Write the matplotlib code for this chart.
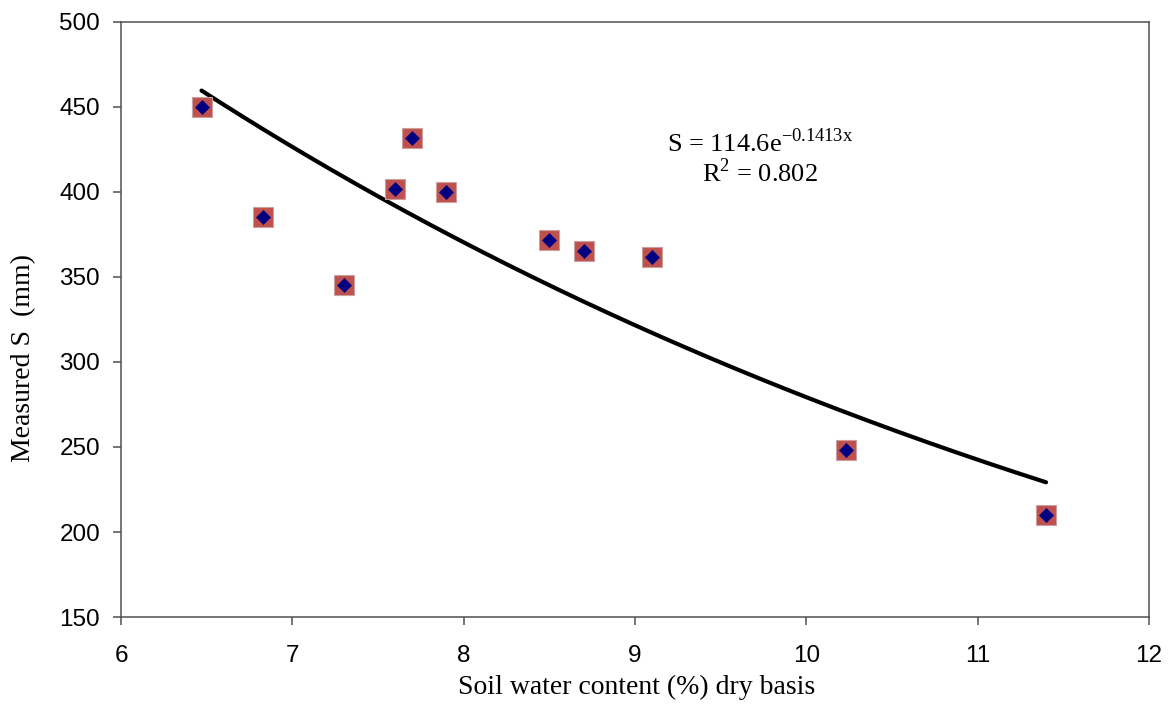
import matplotlib
matplotlib.use('Agg')
import matplotlib.pyplot as plt
import numpy as np

# soil water content (%) and measured S (mm)
water_content = np.array([6.47, 6.83, 7.30, 7.60, 7.70, 7.90, 8.50, 8.70, 9.10, 10.23, 11.40])
measured_s = np.array([450, 385, 345, 402, 432, 400, 372, 365, 362, 248, 210])

x_ticks = [6, 7, 8, 9, 10, 11, 12]
y_ticks = [150, 200, 250, 300, 350, 400, 450, 500]

plt.rcParams['mathtext.fontset'] = 'custom'
plt.rcParams['mathtext.rm'] = 'Liberation Serif'
serif = {'family': 'Liberation Serif'}
sans = 'Liberation Sans'

fig = plt.figure(figsize=(11.68, 7.06), dpi=100)
ax = fig.add_axes([0.1036, 0.126, 0.880, 0.843])

# exponential trendline fitted on log(S)
slope, intercept = np.polyfit(water_content, np.log(measured_s), 1)
xs = np.linspace(water_content.min(), water_content.max(), 200)
ax.plot(xs, np.exp(intercept) * np.exp(slope * xs), color='black', lw=3, solid_capstyle='round', zorder=2)

ax.plot(water_content, measured_s, 's', ms=13.7, mfc='#C0504D', mec='#C9A0A0', mew=0.8, zorder=3)
ax.plot(water_content, measured_s, 'D', ms=7, mfc='#000080', mec='#000080', mew=0.5, zorder=4)

ax.set_xlim(6, 12)
ax.set_ylim(150, 500)
ax.set_xticks(x_ticks)
ax.set_yticks(y_ticks)
for sp in ax.spines.values():
    sp.set_color('#505050')
    sp.set_linewidth(1.1)
ax.tick_params(direction='out', length=6, width=1.1, color='#505050', labelsize=17.5)
ax.tick_params(axis='y', pad=9)
ax.tick_params(axis='x', pad=14)
for lab in ax.get_xticklabels() + ax.get_yticklabels():
    lab.set_family(sans)

ax.set_xlabel('Soil water content (%) dry basis', fontdict=serif, fontsize=20)
ax.set_ylabel('Measured S  (mm)', fontdict=serif, fontsize=20)
ax.yaxis.set_label_coords(-0.083, 0.435)
ax.xaxis.set_label_coords(0.502, -0.097)

ax.text(0.6216, 0.798, r'S = 114.6e$^{\mathrm{-0.1413x}}$', transform=ax.transAxes,
        ha='center', va='center', fontdict=serif, fontsize=19)
ax.text(0.6216, 0.746, r'R$^{2}$ = 0.802', transform=ax.transAxes,
        ha='center', va='center', fontdict=serif, fontsize=19)

fig.savefig('out.png', dpi=100)
